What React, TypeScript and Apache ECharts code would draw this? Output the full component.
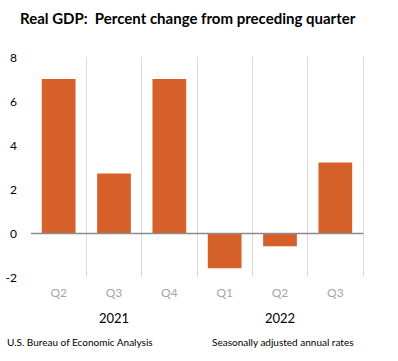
import React, { useEffect, useRef } from "react";
import * as echarts from "echarts";

const quarters = ["Q2", "Q3", "Q4", "Q1", "Q2", "Q3"];
const years = ["2021", "2022"];
const gdpChange = [7.0, 2.7, 7.0, -1.6, -0.6, 3.2];
const yTicks = [-2, 0, 2, 4, 6, 8];
const titleText = "Real GDP:  Percent change from preceding quarter";
const sourceText = "U.S. Bureau of Economic Analysis";
const noteText = "Seasonally adjusted annual rates";

const FONT = "Lato, 'Open Sans', sans-serif";

export default function App() {
  const ref = useRef<HTMLDivElement>(null);
  useEffect(() => {
    document.body.style.margin = "0";
    if (!ref.current) return;
    const chart = echarts.init(ref.current, null, { renderer: "svg" });
    chart.setOption({
      animation: false,
      backgroundColor: "#ffffff",
      grid: { left: 31, right: 35, top: 57, bottom: 84 },
      xAxis: [
        {
          type: "category",
          data: quarters,
          axisLine: { show: false, onZero: false },
          axisTick: { show: false },
          axisLabel: { color: "#a6a6a6", fontSize: 12, fontFamily: FONT, margin: 9 },
          splitLine: {
            show: true,
            interval: (i: number) => i !== 0,
            lineStyle: { color: "#d9d9d9", width: 1 },
          },
        },
        {
          type: "category",
          data: years,
          position: "bottom",
          offset: 25,
          axisLine: { show: false, onZero: false },
          axisTick: { show: false },
          axisLabel: { color: "#000000", fontSize: 13, fontFamily: FONT, margin: 9 },
          splitLine: { show: false },
        },
      ],
      yAxis: {
        type: "value",
        min: yTicks[0],
        max: yTicks[yTicks.length - 1],
        interval: 2,
        axisLine: { show: false },
        axisTick: { show: false },
        splitLine: { show: false },
        axisLabel: { color: "#000000", fontSize: 12, fontFamily: FONT, margin: 14 },
      },
      series: [
        {
          type: "bar",
          xAxisIndex: 0,
          data: gdpChange,
          barWidth: "61%",
          itemStyle: { color: "#d6602a" },
          markLine: {
            silent: true,
            symbol: "none",
            label: { show: false },
            lineStyle: { color: "#8c8c8c", width: 1.3, type: "solid" },
            data: [{ yAxis: 0 }],
          },
        },
      ],
      graphic: [
        {
          type: "text",
          left: 20,
          top: 10,
          style: {
            text: titleText,
            fontSize: 15,
            fontWeight: "bold",
            fontFamily: FONT,
            fill: "#000000",
          },
        },
        {
          type: "text",
          left: 7,
          top: 337,
          style: { text: sourceText, fontSize: 10, fontFamily: FONT, fill: "#000000" },
        },
        {
          type: "text",
          left: 212,
          top: 337,
          style: { text: noteText, fontSize: 10, fontFamily: FONT, fill: "#000000" },
        },
      ],
    });
    return () => chart.dispose();
  }, []);
  return <div ref={ref} style={{ width: 398, height: 361 }} />;
}
